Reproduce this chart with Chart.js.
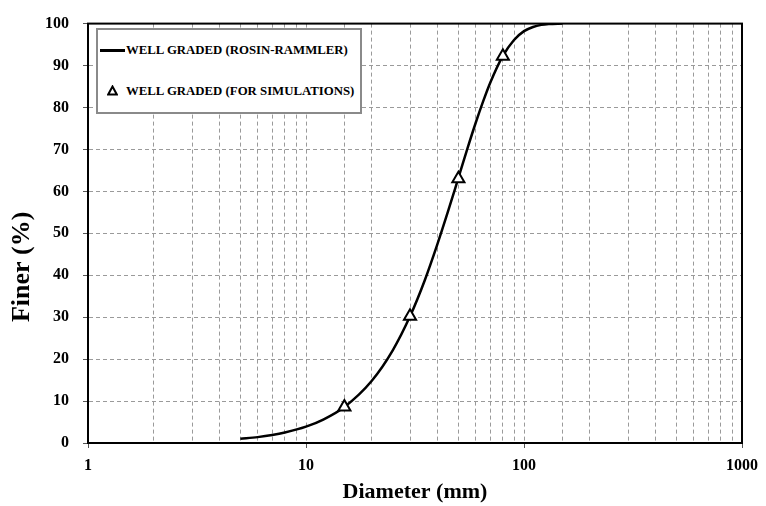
<!DOCTYPE html>
<html>
<head>
<meta charset="utf-8">
<script src="https://cdn.jsdelivr.net/npm/chart.js@4.4.1/dist/chart.umd.min.js"></script>
<style>
  body { margin: 0; background: #fff; }
  #wrap { position: relative; width: 766px; height: 506px; }
  #legend {
    position: absolute; left: 96px; top: 28px; width: 262px; height: 82px;
    border: 2px solid #8a8a8a; background: #fff;
    font: bold 12.8px 'Liberation Serif', 'Times New Roman', serif; color: #000;
  }
  .row { position: absolute; left: 0; height: 16px; line-height: 16px; white-space: nowrap; }
  .row .txt { position: absolute; left: 28px; top: 0; }
  .sample-line { position: absolute; left: 2px; top: 7px; width: 25px; height: 2.5px; background: #000; }
  .sample-tri { position: absolute; left: 9px; top: 2px; }
</style>
</head>
<body>
<div id="wrap">
  <canvas id="gradChart" width="766" height="506"></canvas>
  <div id="legend">
    <div class="row" style="top:12px"><span class="sample-line"></span><span class="txt">WELL GRADED (ROSIN-RAMMLER)</span></div>
    <div class="row" style="top:53px">
      <svg class="sample-tri" width="11" height="11" viewBox="0 0 11 11"><polygon points="5.5,1.5 9.8,9.5 1.2,9.5" fill="#fff" stroke="#000" stroke-width="2"/></svg>
      <span class="txt">WELL GRADED (FOR SIMULATIONS)</span>
    </div>
  </div>
</div>
<script>
// === Données ===
const curveDiameters = [5, 6, 7, 8, 10, 12, 15, 20, 25, 30, 35, 40, 45, 50, 55, 60, 65, 70, 80, 90, 100, 110, 120, 130, 150];
const curveFiner = [1.0, 1.4, 1.9, 2.5, 3.9, 5.6, 8.6, 14.8, 22.1, 30.2, 38.7, 47.3, 55.5, 63.2, 70.2, 76.3, 81.5, 85.9, 92.3, 96.1, 98.2, 99.2, 99.7, 99.9, 100];
const simDiameters = [15, 30, 50, 80];
const simFiner = [8.6, 30.2, 63.0, 92.2];
const xTickLabels = [1, 10, 100, 1000];
const yTickValues = [0, 10, 20, 30, 40, 50, 60, 70, 80, 90, 100];

const serif = "'Liberation Serif', 'Times New Roman', serif";
const gridGray = '#9a9a9a';

function toPoints(xs, ys) {
  return xs.map((x, i) => ({ x: x, y: ys[i] }));
}

// cadre complet autour de la zone de tracé + titre de l'axe Y
const framePlugin = {
  id: 'frame',
  afterDraw(chart) {
    const { ctx, chartArea: a } = chart;
    ctx.save();
    ctx.strokeStyle = '#000';
    ctx.lineWidth = 2;
    ctx.strokeRect(a.left, a.top, a.right - a.left, a.bottom - a.top);
    ctx.translate(22, a.top + 0.58 * (a.bottom - a.top));
    ctx.rotate(-Math.PI / 2);
    ctx.font = 'bold 26px ' + serif;
    ctx.fillStyle = '#000';
    ctx.textAlign = 'center';
    ctx.textBaseline = 'middle';
    ctx.fillText('Finer (%)', 0, 0);
    ctx.restore();
  }
};

const ctx = document.getElementById('gradChart').getContext('2d');

new Chart(ctx, {
  type: 'scatter',
  data: {
    datasets: [
      {
        label: 'WELL GRADED (ROSIN-RAMMLER)',
        data: toPoints(curveDiameters, curveFiner),
        showLine: true,
        borderColor: '#000',
        borderWidth: 2.5,
        pointRadius: 0,
        cubicInterpolationMode: 'monotone',
        order: 2
      },
      {
        label: 'WELL GRADED (FOR SIMULATIONS)',
        data: toPoints(simDiameters, simFiner),
        showLine: false,
        pointStyle: 'triangle',
        pointRadius: 7,
        pointBackgroundColor: '#fff',
        pointBorderColor: '#000',
        pointBorderWidth: 2,
        order: 1
      }
    ]
  },
  options: {
    responsive: false,
    animation: false,
    devicePixelRatio: 1,
    layout: { padding: { top: 17, right: 19, left: 0, bottom: 0 } },
    plugins: {
      legend: { display: false },
      tooltip: { enabled: false }
    },
    scales: {
      x: {
        type: 'logarithmic',
        min: 1,
        max: 1000,
        afterFit: (scale) => { scale.height = 63; },
        grid: {
          color: gridGray,
          lineWidth: 1,
          tickLength: 5,
          tickColor: (c) => (c.tick && xTickLabels.includes(c.tick.value)) ? '#555' : 'rgba(0,0,0,0)'
        },
        border: { color: '#000', width: 2, dash: [4, 3] },
        ticks: {
          autoSkip: false,
          maxRotation: 0,
          padding: 8,
          color: '#000',
          font: { family: serif, size: 16, weight: 'bold' },
          callback: (v) => xTickLabels.includes(v) ? String(v) : ''
        },
        title: {
          display: true,
          text: 'Diameter (mm)',
          color: '#000',
          padding: { top: 0, bottom: 0 },
          font: { family: serif, size: 22, weight: 'bold' }
        }
      },
      y: {
        min: 0,
        max: 100,
        afterFit: (scale) => { scale.width = 88; },
        afterBuildTicks: (scale) => { scale.ticks = yTickValues.map(v => ({ value: v })); },
        grid: { color: gridGray, lineWidth: 1, tickLength: 5, tickColor: '#555' },
        border: { color: '#000', width: 2, dash: [4, 3] },
        ticks: {
          padding: 14,
          color: '#000',
          font: { family: serif, size: 16, weight: 'bold' }
        }
      }
    }
  },
  plugins: [framePlugin]
});
</script>
</body>
</html>
